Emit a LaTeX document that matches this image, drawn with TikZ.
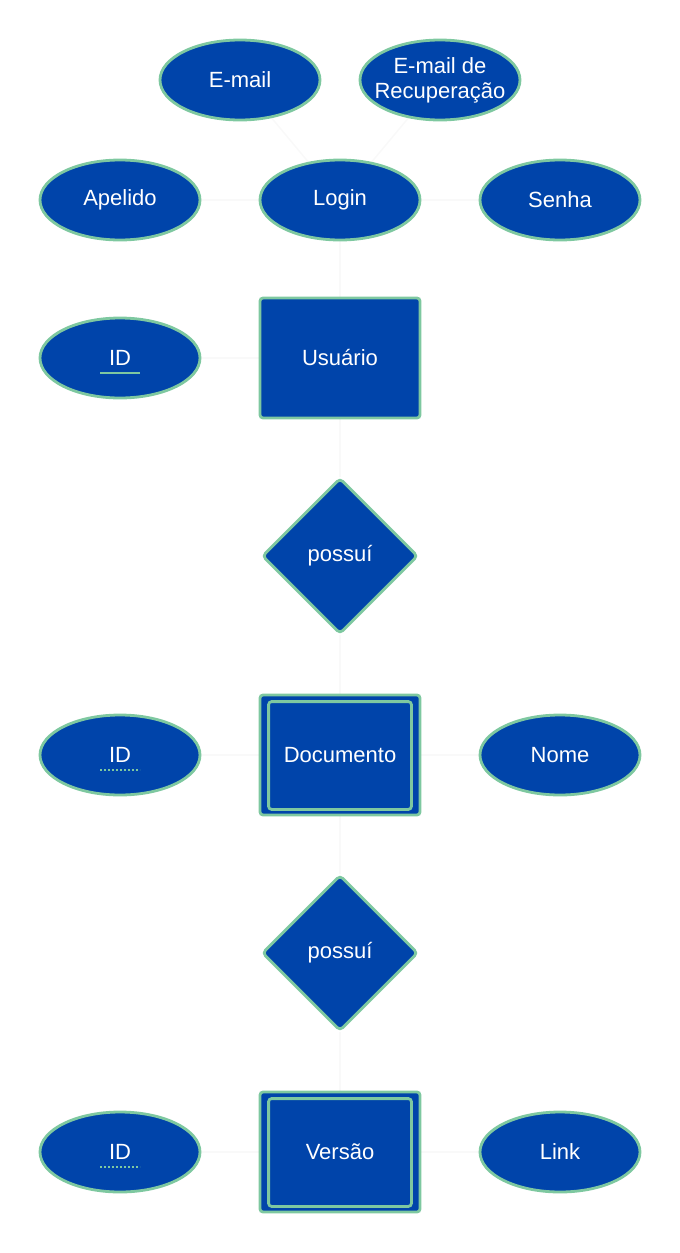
\documentclass[tikz,border=0pt]{standalone}
\usepackage{fontspec}
\setmainfont{Liberation Sans}
\usetikzlibrary{shapes.geometric,backgrounds}
\definecolor{erfill}{RGB}{0,68,170}
\definecolor{erline}{RGB}{126,200,160}
\definecolor{conn}{RGB}{249,249,249}
\begin{document}
\begin{tikzpicture}[x=1pt,y=-1pt,
  base/.style={fill=erfill,draw=erline,line width=2.8pt,text=white,font=\fontsize{22}{25}\selectfont,inner sep=0pt,align=center},
  attr/.style={base,ellipse,minimum width=160pt,minimum height=80pt},
  ent/.style={base,rectangle,rounded corners=3pt,minimum width=160pt,minimum height=120pt},
  rel/.style={base,diamond,rounded corners=4pt,minimum width=156pt,minimum height=156pt},
  inner/.style={draw=erline,line width=2.8pt,rounded corners=3pt},
  lbl/.style={text=white,font=\fontsize{22}{25}\selectfont,inner sep=0pt,align=center},
  conline/.style={draw=conn,line width=1.5pt}]
\useasboundingbox (0,0) rectangle (680,1253);
% attributes of Usuario / Login
\node[attr] (email) at (240,80) {E-mail};
\node[attr] (rec) at (440,80) {};
\node[lbl] (reclbl) at (rec.center) {E-mail de\\Recuperação};
\node[attr] (apel) at (120,200) {Apelido};
\node[attr] (login) at (340,200) {Login};
\node[attr] (senha) at (560,200) {Senha};
\node[ent] (usr) at (340,358) {Usuário};
\node[attr] (id1) at (120,358) {ID};
\node[rel] (p1) at (340,556) {possuí};
\node[ent] (doc) at (340,755) {Documento};
\node[attr] (id2) at (120,755) {ID};
\node[attr] (nome) at (560,755) {Nome};
\node[rel] (p2) at (340,953) {possuí};
\node[ent] (ver) at (340,1152) {Versão};
\node[attr] (id3) at (120,1152) {ID};
\node[attr] (link) at (560,1152) {Link};
% inner rectangles of weak entities
\draw[inner] ([shift={(10,8)}]doc.north west) rectangle ([shift={(-10,-7)}]doc.south east);
\draw[inner] ([shift={(10,8)}]ver.north west) rectangle ([shift={(-10,-7)}]ver.south east);
% key underlines
\draw[draw=erline,line width=1.5pt] ([shift={(-20,15)}]id1.center) -- ([shift={(20,15)}]id1.center);
\draw[draw=erline,line width=1.5pt,dash pattern=on 2pt off 2pt] ([shift={(-20,15)}]id2.center) -- ([shift={(20,15)}]id2.center);
\draw[draw=erline,line width=1.5pt,dash pattern=on 2pt off 2pt] ([shift={(-20,15)}]id3.center) -- ([shift={(20,15)}]id3.center);
% connectors
\begin{pgfonlayer}{background}
\draw[conline] (email) -- (login);
\draw[conline] (rec) -- (login);
\draw[conline] (apel) -- (login);
\draw[conline] (senha) -- (login);
\draw[conline] (login) -- (usr);
\draw[conline] (id1) -- (usr);
\draw[conline] (usr) -- (p1);
\draw[conline] (p1) -- (doc);
\draw[conline] (id2) -- (doc);
\draw[conline] (nome) -- (doc);
\draw[conline] (doc) -- (p2);
\draw[conline] (p2) -- (ver);
\draw[conline] (id3) -- (ver);
\draw[conline] (link) -- (ver);
\end{pgfonlayer}
\end{tikzpicture}
\end{document}
